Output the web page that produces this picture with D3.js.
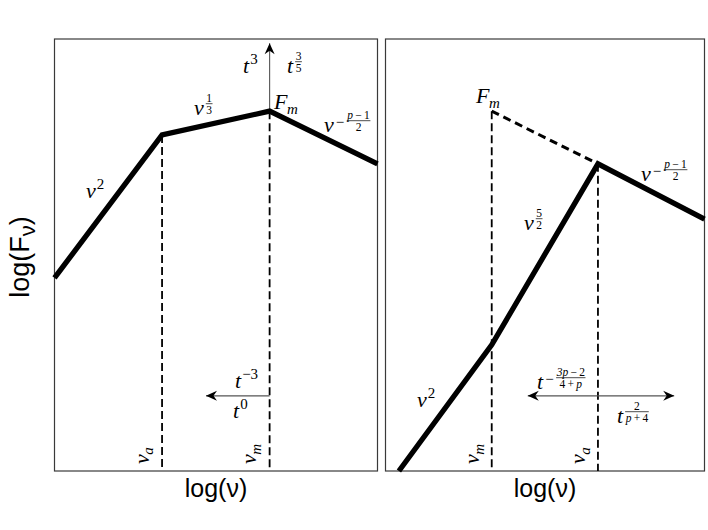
<!DOCTYPE html>
<html>
<head>
<meta charset="utf-8">
<script src="https://cdn.jsdelivr.net/npm/d3@7"></script>
<style>
  body { margin: 0; background: #fff; }
  svg { display: block; }
  .mi { font-family: "Liberation Serif", "DejaVu Serif", serif; font-style: italic; font-size: 22px; }
  .sub { font-size: 15px; }
  .sup { font-family: "Liberation Serif", serif; font-size: 15px; }
  .fr { font-family: "Liberation Serif", serif; font-size: 11.5px; }
  .fr .i { font-style: italic; }
  .axlabel { font-family: "Liberation Sans", Arial, sans-serif; font-size: 25px; }
</style>
</head>
<body>
<svg id="chart" width="708" height="530"></svg>
<script>
// schematic synchrotron spectra, log-log, arbitrary units (0..10 on both axes)
var logNuA = [0, 3.33, 6.66, 10];       // left panel: start, nu_a, nu_m, end
var logFA  = [4.47, 7.78, 8.33, 7.11];
var logNuB = [0.42, 3.33, 6.66, 10];    // right panel: start, nu_m, nu_a, end
var logFB  = [0, 2.92, 7.11, 5.83];
var peakB  = [3.33, 8.33];              // F_m in right panel (extrapolated)
var breakLabelsA = ['a', 'm'];
var breakLabelsB = ['m', 'a'];
var arrowLevel = 1.74;                  // height of time-evolution arrows
var arrowUpTop = 9.9;
var arrowLeftEnd = 4.69;
var arrowBothEnds = [4.46, 9.05];

var svg = d3.select('#chart');

var defs = svg.append('defs');
defs.append('marker')
    .attr('id', 'head')
    .attr('viewBox', '-12 -6 14 12')
    .attr('refX', 0).attr('refY', 0)
    .attr('markerWidth', 14).attr('markerHeight', 12)
    .attr('markerUnits', 'userSpaceOnUse')
    .attr('orient', 'auto-start-reverse')
  .append('path')
    .attr('d', 'M0,0 L-11,-5 L-7.5,0 L-11,5 Z')
    .attr('fill', '#000');

var yScale = d3.scaleLinear().domain([0, 10]).range([471, 39]);

function panel(x0, x1) {
  var g = svg.append('g');
  var x = d3.scaleLinear().domain([0, 10]).range([x0, x1]);
  g.append('rect')
    .attr('x', x0).attr('y', yScale(10))
    .attr('width', x1 - x0).attr('height', yScale(0) - yScale(10))
    .attr('fill', 'none').attr('stroke', '#3a3a3a').attr('stroke-width', 1.2);
  return {g: g, x: x};
}

// fraction text: letters italic, digits and operators upright
function fracText(sel, s) {
  s.split(' ').forEach(function(tok, i) {
    var ts = sel.append('tspan').text((i ? '\u2009' : '') + tok);
    if (/[a-z]/.test(tok)) ts.attr('class', 'i');
  });
}

// math label: base glyph with optional subscript, superscript or fraction exponent
function mathLabel(g, px, py, base, o) {
  o = o || {};
  var t = g.append('g').attr('transform', 'translate(' + px + ',' + py + ')' + (o.rot ? ' rotate(-90)' : ''));
  var b = t.append('text').attr('class', 'mi').text(base);
  var w = b.node().getComputedTextLength() + 1;
  if (o.sub) t.append('text').attr('class', 'mi sub').attr('x', w - 1.5).attr('y', 4.5).text(o.sub);
  if (o.sup) t.append('text').attr('class', 'sup').attr('x', w).attr('y', -9).text(o.sup);
  if (o.frac) {
    var fx = w + 1;
    if (o.frac.neg) {
      t.append('text').attr('class', 'sup').attr('x', fx).attr('y', -5.5).text('\u2212');
      fx += 11;
    }
    var num = t.append('text').attr('class', 'fr').attr('y', -13).attr('text-anchor', 'middle');
    fracText(num, o.frac.num);
    var den = t.append('text').attr('class', 'fr').attr('y', -1.5).attr('text-anchor', 'middle');
    fracText(den, o.frac.den);
    var fw = Math.max(num.node().getComputedTextLength(), den.node().getComputedTextLength()) + 1;
    num.attr('x', fx + fw / 2);
    den.attr('x', fx + fw / 2);
    t.append('line')
      .attr('x1', fx).attr('x2', fx + fw)
      .attr('y1', -11.3).attr('y2', -11.3)
      .attr('stroke', '#000').attr('stroke-width', 0.7);
  }
  return t;
}

function spectrum(p, nus, fs) {
  var line = d3.line().x(function(d) { return p.x(d[0]); }).y(function(d) { return yScale(d[1]); });
  p.g.append('path')
    .datum(d3.zip(nus, fs))
    .attr('d', line)
    .attr('fill', 'none').attr('stroke', '#000')
    .attr('stroke-width', 5.3).attr('stroke-linejoin', 'miter');
}

function dropLine(p, nu, f) {
  p.g.append('line')
    .attr('x1', p.x(nu)).attr('x2', p.x(nu))
    .attr('y1', yScale(f)).attr('y2', yScale(0))
    .attr('stroke', '#000').attr('stroke-width', 1.8)
    .attr('stroke-dasharray', '8,4');
}

function arrow(p, xa, ya, xb, yb, both) {
  var l = p.g.append('line')
    .attr('x1', xa).attr('y1', ya).attr('x2', xb).attr('y2', yb)
    .attr('stroke', '#555').attr('stroke-width', 1.1)
    .attr('marker-end', 'url(#head)');
  if (both) l.attr('marker-start', 'url(#head)');
}

// ---- left panel: nu_a < nu_m
var A = panel(54.5, 377.5);
dropLine(A, logNuA[1], logFA[1]);
dropLine(A, logNuA[2], logFA[2]);
arrow(A, A.x(logNuA[2]), yScale(logFA[2]), A.x(logNuA[2]), yScale(arrowUpTop));
arrow(A, A.x(logNuA[2]), yScale(arrowLevel), A.x(arrowLeftEnd), yScale(arrowLevel));
spectrum(A, logNuA, logFA);

mathLabel(A.g, 86, 198, '\u03bd', {sup: '2'});
mathLabel(A.g, 194, 115, '\u03bd', {frac: {num: '1', den: '3'}});
mathLabel(A.g, 274, 109, 'F', {sub: 'm'});
mathLabel(A.g, 324, 132, '\u03bd', {frac: {neg: true, num: 'p \u2212 1', den: '2'}});
mathLabel(A.g, 243, 73, 't', {sup: '3'});
mathLabel(A.g, 287, 73, 't', {frac: {num: '3', den: '5'}});
mathLabel(A.g, 235, 388, 't', {sup: '\u22123'});
mathLabel(A.g, 233, 418, 't', {sup: '0'});
breakLabelsA.forEach(function(s, i) {
  mathLabel(A.g, A.x(logNuA[i + 1]) - 13.5, 464, '\u03bd', {sub: s, rot: true});
});

// ---- right panel: nu_m < nu_a
var B = panel(385.5, 704.5);
dropLine(B, peakB[0], peakB[1]);
dropLine(B, logNuB[2], logFB[2]);
B.g.append('line')
  .attr('x1', B.x(peakB[0])).attr('y1', yScale(peakB[1]))
  .attr('x2', B.x(logNuB[2])).attr('y2', yScale(logFB[2]))
  .attr('stroke', '#000').attr('stroke-width', 3)
  .attr('stroke-dasharray', '8,5');
arrow(B, B.x(logNuB[2]), yScale(arrowLevel), B.x(arrowBothEnds[0]), yScale(arrowLevel));
arrow(B, B.x(logNuB[2]), yScale(arrowLevel), B.x(arrowBothEnds[1]), yScale(arrowLevel));
spectrum(B, logNuB, logFB);

mathLabel(B.g, 476, 103, 'F', {sub: 'm'});
mathLabel(B.g, 524, 230, '\u03bd', {frac: {num: '5', den: '2'}});
mathLabel(B.g, 641, 181, '\u03bd', {frac: {neg: true, num: 'p \u2212 1', den: '2'}});
mathLabel(B.g, 417, 407, '\u03bd', {sup: '2'});
mathLabel(B.g, 537, 389, 't', {frac: {neg: true, num: '3p \u2212 2', den: '4 + p'}});
mathLabel(B.g, 617, 423, 't', {frac: {num: '2', den: 'p + 4'}});
breakLabelsB.forEach(function(s, i) {
  mathLabel(B.g, B.x(logNuB[i + 1]) - 12.5, 464, '\u03bd', {sub: s, rot: true});
});

// ---- axis titles
svg.append('text').attr('class', 'axlabel')
  .attr('x', A.x(5)).attr('y', 497).attr('text-anchor', 'middle').text('log(\u03bd)');
svg.append('text').attr('class', 'axlabel')
  .attr('x', B.x(5)).attr('y', 497).attr('text-anchor', 'middle').text('log(\u03bd)');
var yl = svg.append('text').attr('class', 'axlabel')
  .attr('transform', 'translate(29,257) rotate(-90)').attr('text-anchor', 'middle')
  .style('font-size', '27px');
yl.append('tspan').text('log(F');
yl.append('tspan').attr('dy', 6).attr('font-size', 22).text('\u03bd');
yl.append('tspan').attr('dy', -6).text(')');
</script>
</body>
</html>
